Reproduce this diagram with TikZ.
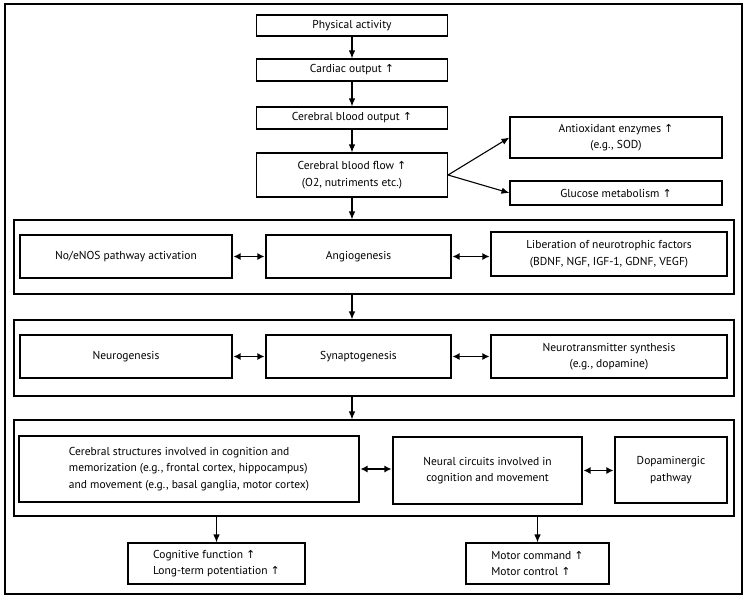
\documentclass[tikz,border=0pt]{standalone}
\usepackage{fontspec}
\setmainfont{PT Sans}
\newfontfamily\symf{DejaVu Sans}
\usetikzlibrary{arrows.meta,calc}
\newcommand\upar{{\symf\fontsize{11}{11}\selectfont ↑}}
\begin{document}
\begin{tikzpicture}[x=1pt,y=-1pt,
  box/.style={draw,line width=1.1pt,inner sep=2pt,font=\fontsize{11.5}{16.5}\selectfont,align=center},
  grp/.style={draw,line width=1.1pt,inner sep=0pt},
  arr/.style={line width=1.1pt,-{Latex[length=8pt,width=6.5pt]}},
  dbl/.style={line width=1.2pt,{Latex[length=7pt,width=7pt]}-{Latex[length=7pt,width=7pt]},shorten >=1pt,shorten <=1pt}]
\useasboundingbox (0,0) rectangle (750,600);
\draw[line width=1.3pt] (5,4) rectangle (742,594);
% top chain
\node[box,minimum width=191pt,minimum height=21pt] (pa) at (352,25.5) {Physical activity};
\node[box,minimum width=191pt,minimum height=22pt] (co) at (352,70) {Cardiac output \upar};
\node[box,minimum width=191pt,minimum height=22pt] (cbo) at (352,118) {Cerebral blood output \upar};
\node[box,minimum width=191pt,minimum height=44pt] (cbf) at (352,175) {Cerebral blood flow \upar\\(O2, nutriments etc.)};
\node[box,minimum width=212pt,minimum height=41pt] (ao) at (616,137.5) {Antioxidant enzymes \upar\\(e.g., SOD)};
\node[box,minimum width=212pt,minimum height=24pt] (gm) at (616,193) {Glucose metabolism \upar};
% group 1
\node[grp,minimum width=720pt,minimum height=74pt] (g1) at (374,257) {};
\node[box,minimum width=212pt,minimum height=43pt] (ne) at (126,256.5) {No/eNOS pathway activation};
\node[box,minimum width=185pt,minimum height=43pt] (an) at (358.5,256.5) {Angiogenesis};
\node[box,minimum width=236pt,minimum height=44pt] (lib) at (609,254) {Liberation of neurotrophic factors\\(BDNF, NGF, IGF-1, GDNF, VEGF)};
% group 2
\node[grp,minimum width=720pt,minimum height=76pt] (g2) at (374,358) {};
\node[box,minimum width=212pt,minimum height=43pt] (neu) at (126,356.5) {Neurogenesis};
\node[box,minimum width=185pt,minimum height=43pt] (syn) at (358.5,356.5) {Synaptogenesis};
\node[box,minimum width=236pt,minimum height=43pt] (nt) at (609,356.5) {Neurotransmitter synthesis\\(e.g., dopamine)};
% group 3
\node[grp,minimum width=720pt,minimum height=96pt] (g3) at (374,468) {};
\node[box,align=left,minimum width=340pt,minimum height=66pt] (cs) at (189,469) {Cerebral structures involved in cognition and\\memorization (e.g., frontal cortex, hippocampus)\\and movement (e.g., basal ganglia, motor cortex)};
\node[box,minimum width=189pt,minimum height=67pt] (nc) at (487.5,470.5) {Neural circuits involved in\\cognition and movement};
\node[box,minimum width=112pt,minimum height=66pt] (dp) at (671,470) {Dopaminergic\\pathway};
% outputs
\node[box,align=left,minimum width=177pt,minimum height=41pt] (cf) at (216.5,563.5) {Cognitive function \upar\\Long-term potentiation \upar};
\node[box,align=left,minimum width=143pt,minimum height=41pt] (mc) at (537.5,563.5) {Motor command \upar\\Motor control \upar};
% arrows
\draw[arr] (pa) -- (co);
\draw[arr] (co) -- (cbo);
\draw[arr] (cbo) -- (cbf);
\draw[arr] (cbf.east) -- (ao.west);
\draw[arr] (cbf.east) -- (gm.west);
\draw[arr] (cbf.south) -- (cbf.south |- g1.north);
\draw[arr] (cbf.south |- g1.south) -- (cbf.south |- g2.north);
\draw[arr] (cbf.south |- g2.south) -- (cbf.south |- g3.north);
\draw[arr] (cf.north |- g3.south) -- (cf.north);
\draw[arr] (mc.north |- g3.south) -- (mc.north);
\draw[dbl] (ne) -- (an);
\draw[dbl] (an) -- (an.east -| lib.west);
\draw[dbl] (neu) -- (syn);
\draw[dbl] (syn) -- (nt);
\draw[dbl] (cs) -- (cs.east -| nc.west);
\draw[dbl] (nc) -- (nc.east -| dp.west);
\end{tikzpicture}
\end{document}
